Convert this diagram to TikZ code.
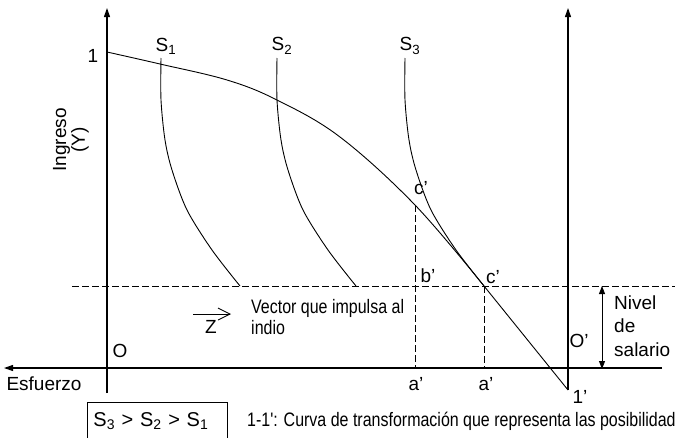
\documentclass[tikz,border=0pt]{standalone}
\usepackage{fontspec}
\setmainfont{Liberation Sans}
\newfontfamily\narrowfont[FakeStretch=0.82]{Liberation Sans}
\usetikzlibrary{arrows.meta,positioning}
\tikzset{
  axis/.style={line width=1.1pt, -{Triangle[length=9pt,width=6pt]}},
  curve/.style={line width=0.9pt},
  guide/.style={line width=0.9pt, dash pattern=on 7pt off 3pt},
  lbl/.style={inner sep=0pt, font=\fontsize{19}{21}\selectfont},
  narrowlbl/.style={inner sep=0pt, align=left, font=\narrowfont\fontsize{19.5}{21.5}\selectfont},
  wagearrow/.style={line width=0.9pt, {Triangle[length=8pt,width=6pt]}-{Triangle[length=8pt,width=6pt]}},
  vec/.style={line width=0.9pt, -{Straight Barb[length=12pt,width=12pt]}},
  framebox/.style={draw, line width=0.9pt, inner xsep=6pt, inner ysep=0pt, text width=128pt,
    text height=24pt, text depth=30pt, font=\fontsize{20}{22}\selectfont}
}
\newcommand{\scurve}[3]{%
  \begin{scope}[xshift=#1pt]
    \draw[curve] plot[smooth, tension=0.5] coordinates {(161,58) (161,100) (165,140) (172,170) (187,210) (212,250) (240,286)};
    \node[lbl] (#2) at (166,46) {S\textsubscript{#3}};
  \end{scope}}

\begin{document}
\begin{tikzpicture}[x=1pt, y=-1pt]
  \clip (0,0) rectangle (679,437);
  \coordinate (ytop) at (107,8);
  \coordinate (ybot) at (107,393);
  \coordinate (xleft) at (4,368);
  \coordinate (xright) at (662,368);
  \coordinate (ptop) at (568,8);
  \coordinate (onep) at (568,390);
  \coordinate (dl) at (72,286);
  \coordinate (dr) at (675,286);
  \coordinate (cup) at (415,205);
  \coordinate (cdown) at (484,286);
  \coordinate (aup) at (415,368);
  \coordinate (adown) at (484,368);
  \coordinate (wtop) at (602,286);
  \coordinate (wbot) at (602,369);
  \coordinate (zs) at (193,314);
  \coordinate (ze) at (231,314);

  \draw[axis] (ybot) -- (ytop);
  \draw[axis] (xright) -- (xleft);
  \draw[axis] (onep) -- (ptop);
  \draw[guide] (dl) -- (dr);
  \draw[guide] (cup) -- (aup);
  \draw[guide] (cdown) -- (adown);
  \draw[curve] plot[smooth, tension=0.6] coordinates {(107,52) (160,64) (227,80) (277,100) (340,137) (cup) (cdown)} -- (onep);
  \scurve{0}{s1}{1}
  \scurve{116}{s2}{2}
  \scurve{244}{s3}{3}

  \node[lbl] (one) at (93,56) {1};
  \node[lbl, rotate=90, align=center, font=\fontsize{19}{17}\selectfont] (ingreso) at (71,140) {Ingreso\\(Y)};
  \node[lbl] (esf) at (44,384) {Esfuerzo};
  \node[lbl] (o) at (120,351) {O};
  \node[lbl] (op) at (579,341) {O'};
  \node[lbl] (onelbl) at (580,397) {1'};
  \node[lbl] (cupl) at (421,188) {c'};
  \node[lbl] (bl) at (428,276) {b'};
  \node[lbl] (cdl) at (493,277) {c'};
  \node[lbl] (a1) at (416,384) {a'};
  \node[lbl] (a2) at (486,384) {a'};
  \node[lbl] (z) at (211,327) {Z};
  \draw[vec] (zs) -- (ze);
  \node[narrowlbl, anchor=west] (vector) at (251,317) {Vector que impulsa al\\indio};
  \draw[wagearrow] (wtop) -- (wbot);
  \node[lbl, anchor=west, align=left, font=\fontsize{19}{23.5}\selectfont] (nivel) at (614,326) {Nivel\\de\\salario};
  \node[framebox, anchor=north west] (order) at (87,402) {S\textsubscript{3} > S\textsubscript{2} > S\textsubscript{1}};
  \node[narrowlbl, anchor=base west] (leyenda) at (247,426) {1-1': Curva de transformación que representa las posibilidad};
\end{tikzpicture}
\end{document}
